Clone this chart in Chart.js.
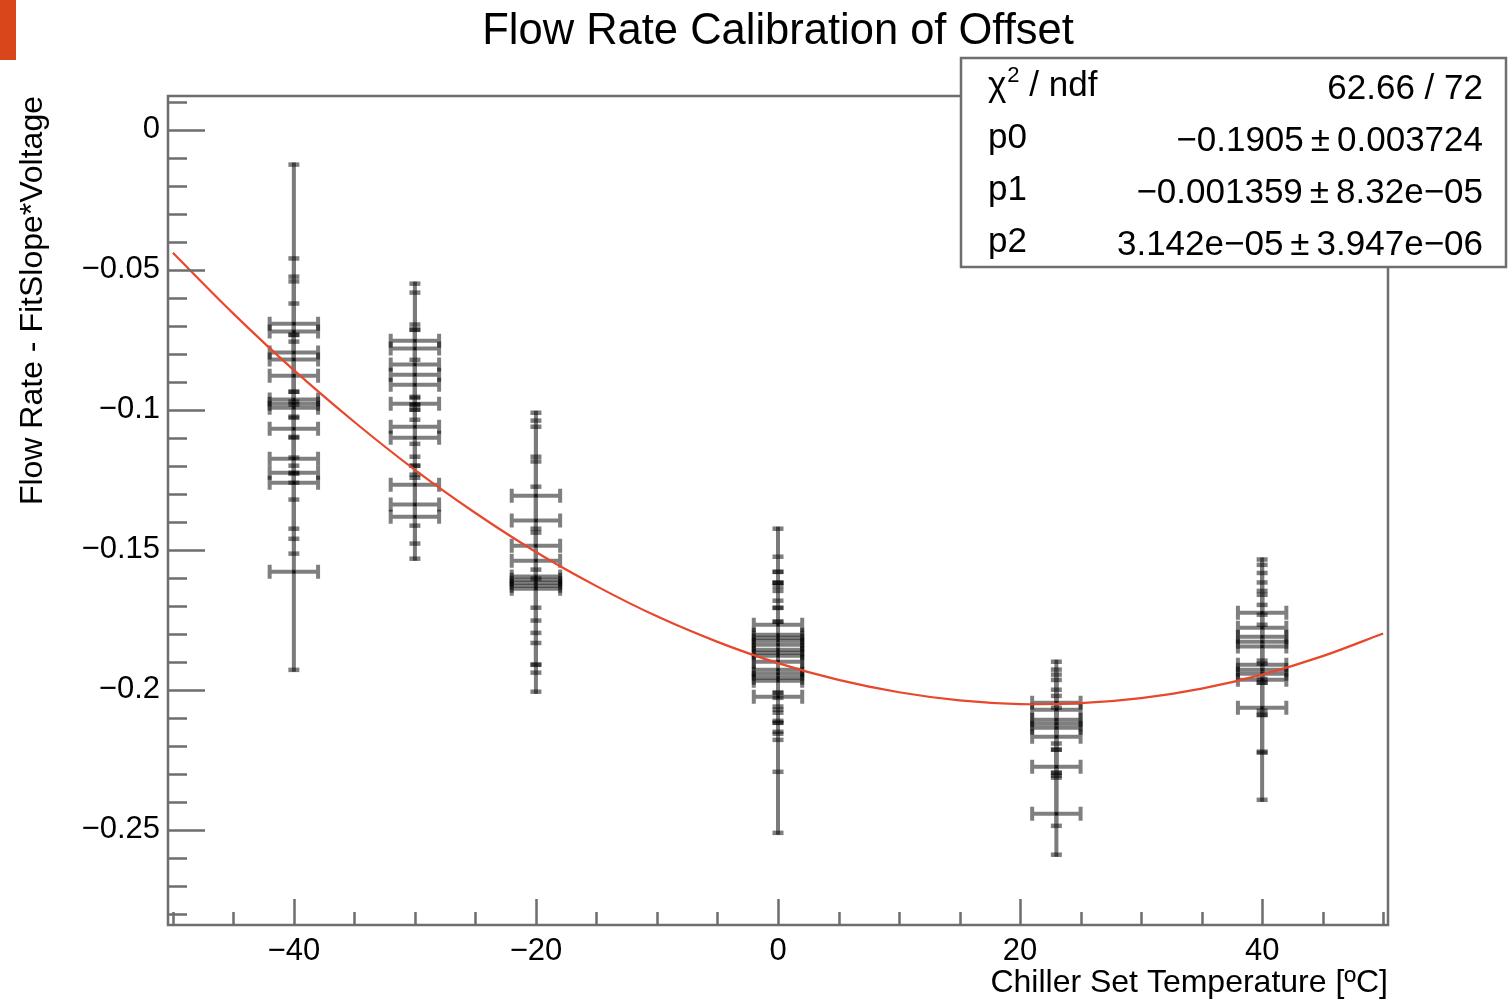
<!DOCTYPE html>
<html><head><meta charset="utf-8">
<script src="https://cdn.jsdelivr.net/npm/chart.js@4.4.1/dist/chart.umd.min.js"></script>
<style>html,body{margin:0;padding:0;background:#fff;}#wrap{width:1508px;height:999px;position:relative;}</style>
</head><body><div id="wrap"><canvas id="c"></canvas></div>
<script>
// ---- text ----
const chartTitle = 'Flow Rate Calibration of Offset';
const xAxisTitle = 'Chiller Set Temperature [ºC]';
const yAxisTitle = 'Flow Rate - FitSlope*Voltage';

// ---- measurement groups (chiller set temperature) ----
const groupX = [-40, -30, -20, 0, 23, 40];
const groupXErr = [2, 2, 2, 2, 2, 2];

const yM40 = [-0.0693, -0.0721, -0.0796, -0.0821, -0.0879, -0.0964, -0.0979, -0.0993, -0.1068, -0.1175, -0.1225, -0.1261, -0.1579];
const eM40 = [0.0568, 0.0261, 0.0175, 0.0279, 0.0146, 0.0207, 0.0246, 0.0468, 0.0132, 0.0146, 0.0289, 0.0164, 0.0350];

const yM30 = [-0.0754, -0.0782, -0.0839, -0.0875, -0.0911, -0.0979, -0.1061, -0.1100, -0.1268, -0.1339, -0.1382];
const eM30 = [0.0204, 0.0200, 0.0143, 0.0161, 0.0089, 0.0264, 0.0107, 0.0100, 0.0146, 0.0139, 0.0150];

const yM20 = [-0.1307, -0.1396, -0.1486, -0.1539, -0.1596, -0.1607, -0.1618, -0.1629, -0.1639];
const eM20 = [0.0296, 0.0357, 0.0425, 0.0371, 0.0411, 0.0332, 0.0179, 0.0204, 0.0068];

const yP0 = [-0.1768, -0.1804, -0.1814, -0.1825, -0.1839, -0.1857, -0.1868, -0.1879, -0.1900, -0.1929, -0.1943, -0.1957, -0.1968, -0.2025];
const eP0 = [0.0243, 0.0225, 0.0196, 0.0246, 0.0221, 0.0225, 0.0250, 0.0232, 0.0218, 0.0221, 0.0236, 0.0200, 0.0543, 0.0268];

const yP23 = [-0.2046, -0.2071, -0.2107, -0.2121, -0.2136, -0.2168, -0.2275, -0.2443];
const eP23 = [0.0146, 0.0143, 0.0107, 0.0175, 0.0171, 0.0146, 0.0211, 0.0146];

const yP40 = [-0.1725, -0.1779, -0.1811, -0.1829, -0.1846, -0.1911, -0.1929, -0.1943, -0.1964, -0.2064];
const eP40 = [0.0171, 0.0196, 0.0164, 0.0132, 0.0229, 0.0179, 0.0161, 0.0282, 0.0429, 0.0157];

// ---- fitted curve ----
const fitX = [-50, -45, -40, -35, -30, -25, -20, -15, -10, -5, 0, 5, 10, 15, 20, 25, 30, 35, 40, 45, 50];
const fitY = [-0.0440, -0.0657, -0.0859, -0.1044, -0.1215, -0.1369, -0.1508, -0.1630, -0.1738, -0.1829, -0.1905,
              -0.1965, -0.2009, -0.2038, -0.2051, -0.2048, -0.2030, -0.1996, -0.1946, -0.1880, -0.1799];

// ---- stats box ----
const statsLabels = ['χ', 'p0', 'p1', 'p2'];
const statsValues = ['62.66 / 72', '−0.1905\u2009±\u20090.003724', '−0.001359\u2009±\u20098.32e−05', '3.142e−05\u2009±\u20093.947e−06'];

// ---- axis ----
const xRange = [-50.4, 50.4];
const yRange = [-0.284, 0.012];
const xMajorStep = 20, xMinorStep = 5;
const yMajorStep = 0.05, yMinorStep = 0.01;

const FONT = "'Liberation Sans', Arial, Helvetica, sans-serif";

const groupsY = [yM40, yM30, yM20, yP0, yP23, yP40];
const groupsE = [eM40, eM30, eM20, eP0, eP23, eP40];
const points = [];
groupX.forEach((gx, i) => {
  groupsY[i].forEach((yv, j) => points.push({x: gx, y: yv, ex: groupXErr[i], ey: groupsE[i][j]}));
});
const fitData = fitX.map((xv, i) => ({x: xv, y: fitY[i]}));

function fmtY(v) {
  const r = Math.round(v * 1000) / 1000;
  if (r === 0) return '0';
  return (r < 0 ? '−' : '') + String(Math.abs(r));
}
function fmtX(v) {
  const r = Math.round(v);
  if (r === 0) return '0';
  return (r < 0 ? '−' : '') + String(Math.abs(r));
}

const errorBars = {
  id: 'errorBars',
  beforeDatasetsDraw(chart) {
    const {ctx, scales: {x, y}} = chart;
    const data = chart.data.datasets[1].data;
    ctx.save();
    ctx.lineCap = 'butt';
    // vertical error lines
    ctx.strokeStyle = '#7b7b7b';
    ctx.lineWidth = 4;
    data.forEach(p => {
      const px = x.getPixelForValue(p.x);
      ctx.beginPath();
      ctx.moveTo(px, y.getPixelForValue(p.y + p.ey) - 2);
      ctx.lineTo(px, y.getPixelForValue(p.y - p.ey) + 2);
      ctx.stroke();
    });
    // caps and horizontal error bars
    ctx.strokeStyle = 'rgba(0,0,0,0.5)';
    data.forEach(p => {
      const px = x.getPixelForValue(p.x);
      const py = y.getPixelForValue(p.y);
      [p.y + p.ey, p.y - p.ey].forEach(v => {
        const yy = y.getPixelForValue(v);
        ctx.lineWidth = 4.5;
        ctx.beginPath(); ctx.moveTo(px - 5.5, yy); ctx.lineTo(px + 5.5, yy); ctx.stroke();
      });
      if (p.ex > 0) {
        const xl = x.getPixelForValue(p.x - p.ex), xr = x.getPixelForValue(p.x + p.ex);
        ctx.lineWidth = 4;
        ctx.beginPath();
        ctx.moveTo(xl, py); ctx.lineTo(xr, py);
        ctx.moveTo(xl, py - 7); ctx.lineTo(xl, py + 7);
        ctx.moveTo(xr, py - 7); ctx.lineTo(xr, py + 7);
        ctx.stroke();
      }
    });
    ctx.restore();
  }
};

const frameTicks = {
  id: 'frameTicks',
  afterDatasetsDraw(chart) {
    const {ctx, chartArea: a, scales: {x, y}} = chart;
    ctx.save();
    ctx.strokeStyle = '#6e6e6e';
    ctx.lineWidth = 2.5;
    ctx.strokeRect(a.left, a.top, a.right - a.left, a.bottom - a.top);
    ctx.lineWidth = 2.5;
    ctx.beginPath();
    for (let k = Math.ceil(yRange[0] / yMinorStep); k * yMinorStep <= yRange[1] + 1e-9; k++) {
      const v = k * yMinorStep;
      const major = Math.abs(Math.round(v / yMajorStep) * yMajorStep - v) < 1e-9;
      const py = Math.round(y.getPixelForValue(v)) + 0.5;
      ctx.moveTo(a.left, py); ctx.lineTo(a.left + (major ? 37 : 19), py);
    }
    for (let k = Math.ceil(xRange[0] / xMinorStep); k * xMinorStep <= xRange[1] + 1e-9; k++) {
      const v = k * xMinorStep;
      const major = Math.abs(Math.round(v / xMajorStep) * xMajorStep - v) < 1e-9;
      const px = Math.round(x.getPixelForValue(v)) + 0.5;
      ctx.moveTo(px, a.bottom); ctx.lineTo(px, a.bottom - (major ? 26 : 13));
    }
    ctx.stroke();
    ctx.restore();
  },
  afterDraw(chart) {
    const {ctx, chartArea: a} = chart;
    ctx.save();
    // corner mark
    ctx.fillStyle = '#d9461c';
    ctx.fillRect(0, 0, 16, 60);
    // title
    ctx.fillStyle = '#000';
    ctx.font = '43.5px ' + FONT;
    ctx.textAlign = 'center';
    ctx.textBaseline = 'alphabetic';
    ctx.fillText(chartTitle, (a.left + a.right) / 2, 44);
    // stats box
    ctx.fillStyle = '#fff';
    ctx.fillRect(960, 58, 546, 209);
    ctx.strokeStyle = '#6e6e6e';
    ctx.lineWidth = 2.5;
    ctx.strokeRect(961, 58, 545, 209);
    ctx.fillStyle = '#000';
    const rows = [96, 148, 200, 252];
    ctx.font = '35px ' + FONT;
    ctx.textAlign = 'left';
    // chi2 label
    ctx.fillText(statsLabels[0], 988, rows[0]);
    let w = ctx.measureText(statsLabels[0]).width;
    ctx.font = '22px ' + FONT;
    ctx.fillText('2', 988 + w + 1, rows[0] - 14);
    const w2 = ctx.measureText('2').width;
    ctx.font = '35px ' + FONT;
    ctx.fillText(' / ndf', 988 + w + w2 + 1, rows[0]);
    for (let i = 1; i < statsLabels.length; i++) ctx.fillText(statsLabels[i], 988, rows[i]);
    ctx.textAlign = 'right';
    for (let i = 0; i < statsValues.length; i++) ctx.fillText(statsValues[i], 1483, rows[i] + 3);
    ctx.restore();
  }
};

new Chart(document.getElementById('c'), {
  type: 'scatter',
  data: {
    datasets: [
      {type: 'line', data: fitData, borderColor: '#e8472c', borderWidth: 2.2, pointRadius: 0, tension: 0.35, fill: false, order: 0},
      {type: 'scatter', data: points, pointStyle: 'rect', pointRadius: 2, backgroundColor: 'rgba(0,0,0,0.7)', borderWidth: 0, order: 1}
    ]
  },
  options: {
    responsive: true,
    maintainAspectRatio: false,
    animation: false,
    layout: {padding: {left: 0, top: 96, right: 120, bottom: 0}},
    plugins: {legend: {display: false}, tooltip: {enabled: false}, title: {display: false}},
    scales: {
      x: {
        type: 'linear', min: xRange[0], max: xRange[1],
        afterFit(s) { s.height = 74; },
        grid: {display: false, drawTicks: false},
        border: {display: false},
        ticks: {stepSize: xMajorStep, includeBounds: false, autoSkip: false, maxRotation: 0, padding: 8,
                color: '#000', font: {family: FONT, size: 31}, callback: v => fmtX(v)},
        title: {display: true, text: xAxisTitle, align: 'end', color: '#000',
                font: {family: FONT, size: 32, lineHeight: 1}, padding: {top: 0, bottom: 0}}
      },
      y: {
        type: 'linear', min: yRange[0], max: yRange[1],
        afterFit(s) { s.width = 168; },
        grid: {display: false, drawTicks: false},
        border: {display: false},
        ticks: {stepSize: yMajorStep, includeBounds: false, autoSkip: false, padding: 8,
                color: '#000', font: {family: FONT, size: 31}, callback: v => fmtY(v)},
        title: {display: true, text: yAxisTitle, align: 'end', color: '#000',
                font: {family: FONT, size: 32, lineHeight: 1.2}, padding: {top: 14, bottom: 0}}
      }
    }
  },
  plugins: [errorBars, frameTicks]
});
</script></body></html>
